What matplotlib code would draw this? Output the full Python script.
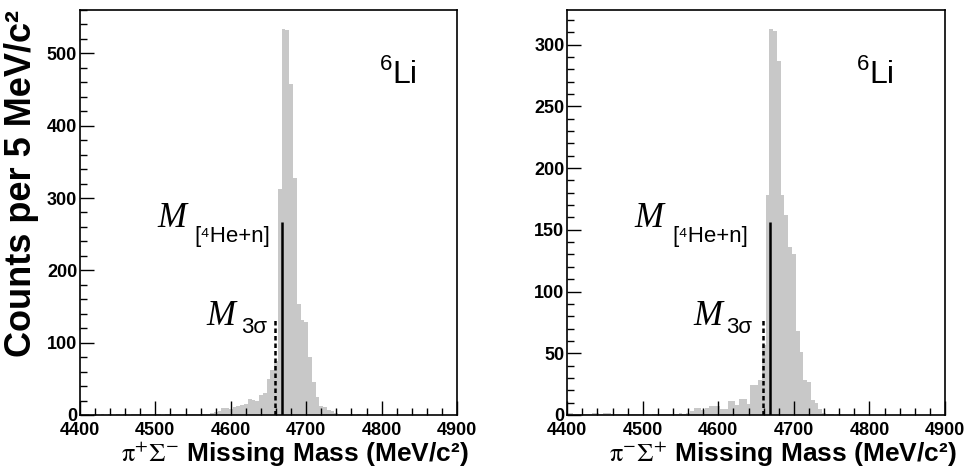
import numpy as np
import matplotlib
matplotlib.use('Agg')
import matplotlib.pyplot as plt
import matplotlib.transforms as mtransforms
from matplotlib.ticker import MultipleLocator

plt.rcParams['font.family'] = ['Liberation Sans', 'DejaVu Sans']
plt.rcParams['mathtext.fontset'] = 'stix'

# bins of 5 MeV/c^2, centred on multiples of 5
bin_width = 5
bin_start = 4397.5
xlo, xhi = 4400, 4900

# pi+ Sigma- missing mass (counts per bin)
counts_pipsm = [2, 2, 1, 0, 1, 0, 1, 0, 1, 0, 1, 0, 1, 0, 1, 1, 2, 2, 2, 2,
                2, 1, 0, 1, 1, 1, 1, 1, 2, 1, 2, 1, 2, 2, 2, 3, 4, 6, 10, 10,
                8, 11, 13, 14, 15, 22, 21, 19, 28, 30, 50, 62, 75, 313, 534, 532, 458, 328, 153, 131,
                129, 80, 46, 25, 12, 11, 7, 5, 3, 2, 1, 1, 1, 0, 1, 0, 0, 0, 0, 0,
                0, 0, 0, 0, 0, 0, 0, 0, 0, 0, 0, 0, 0, 0, 0, 0, 0, 0, 0, 0, 0]
# pi- Sigma+ missing mass
counts_pmsp = [2, 2, 1, 1, 1, 1, 1, 2, 2, 1, 2, 2, 1, 1, 1, 1, 1, 1, 1, 1,
               1, 1, 0, 1, 1, 1, 1, 1, 1, 1, 2, 1, 2, 3, 6, 6, 4, 6, 7, 7,
               7, 5, 5, 11, 11, 8, 13, 13, 9, 24, 24, 28, 57, 178, 313, 311, 287, 178, 162, 136,
               130, 68, 51, 28, 27, 12, 10, 5, 2, 1, 1, 0, 1, 0, 0, 0, 0, 0, 0, 0,
               0, 0, 0, 0, 0, 0, 0, 0, 0, 0, 0, 0, 0, 0, 0, 0, 0, 0, 0, 0, 0]

m_he4n = 4668      # M[4He+n]
m_3sigma = 4659    # M_3sigma
line_tops_l = [267, 132]
line_tops_r = [156, 77]

panels = [
    dict(counts=counts_pipsm, ymax=560, major=100, minor=20, tops=line_tops_l,
         xlabel=r'$\mathrm{\pi^{+}\Sigma^{-}}$ Missing Mass (MeV/c²)',
         lab_x=[4541, 4652, 4606, 4648], li_x=[0.796, 0.828]),
    dict(counts=counts_pmsp, ymax=328, major=50, minor=10, tops=line_tops_r,
         xlabel=r'$\mathrm{\pi^{-}\Sigma^{+}}$ Missing Mass (MeV/c²)',
         lab_x=[4527, 4639, 4605, 4645], li_x=[0.767, 0.799]),
]

fig = plt.figure(figsize=(9.68, 4.71), dpi=100)
axes = [fig.add_axes([0.0826, 0.1189, 0.3895, 0.8599]),
        fig.add_axes([0.586, 0.1189, 0.3902, 0.8599])]

for ax, p in zip(axes, panels):
    edges = bin_start + bin_width * np.arange(len(p['counts']) + 1)
    ax.stairs(p['counts'], edges, fill=True, color='#c8c8c8', lw=0)
    ax.set_xlim(xlo, xhi)
    ax.set_ylim(0, p['ymax'])

    ax.vlines(m_he4n, 0, p['tops'][0], color='black', lw=1.8)
    ax.vlines(m_3sigma, 0, p['tops'][1], color='black', lw=1.8,
              linestyles=(0, (1.8, 1.2)))

    ax.xaxis.set_major_locator(MultipleLocator(100))
    ax.xaxis.set_minor_locator(MultipleLocator(20))
    ax.yaxis.set_major_locator(MultipleLocator(p['major']))
    ax.yaxis.set_minor_locator(MultipleLocator(p['minor']))
    ax.tick_params(which='both', direction='in', top=False, right=False, width=1)
    ax.tick_params(which='major', length=10, labelsize=13)
    ax.tick_params(which='minor', length=5)
    ax.tick_params(axis='x', pad=5)
    ax.tick_params(axis='y', pad=2)
    for lab in ax.get_xticklabels() + ax.get_yticklabels():
        lab.set_fontweight('bold')
    for sp in ax.spines.values():
        sp.set_linewidth(1.2)

    ax.set_xlabel(p['xlabel'], fontsize=19, fontweight='bold', ha='right')
    ax.xaxis.set_label_coords(1.03, -0.062)

    # annotations
    trans = mtransforms.blended_transform_factory(ax.transData, ax.transAxes)
    lx = p['lab_x']
    ax.text(p['li_x'][0], 0.892, '6', transform=ax.transAxes, fontsize=16, va='top')
    ax.text(p['li_x'][1], 0.820, 'Li', transform=ax.transAxes, fontsize=23, va='baseline')
    ax.text(lx[0], 0.484, 'M', transform=trans, fontsize=25, style='italic',
            family='Liberation Serif', ha='right', va='center')
    ax.text(lx[1], 0.44, '[⁴He+n]', transform=trans, fontsize=16,
            ha='right', va='center')
    ax.text(lx[2], 0.244, 'M', transform=trans, fontsize=25, style='italic',
            family='Liberation Serif', ha='right', va='center')
    ax.text(lx[3], 0.216, '3σ', transform=trans, fontsize=16,
            ha='right', va='center')

axes[0].set_ylabel('Counts per 5 MeV/c²', fontsize=26, fontweight='bold',
                   ha='right')
axes[0].yaxis.set_label_coords(-0.108, 1.0)

fig.savefig('out.png', dpi=100)
